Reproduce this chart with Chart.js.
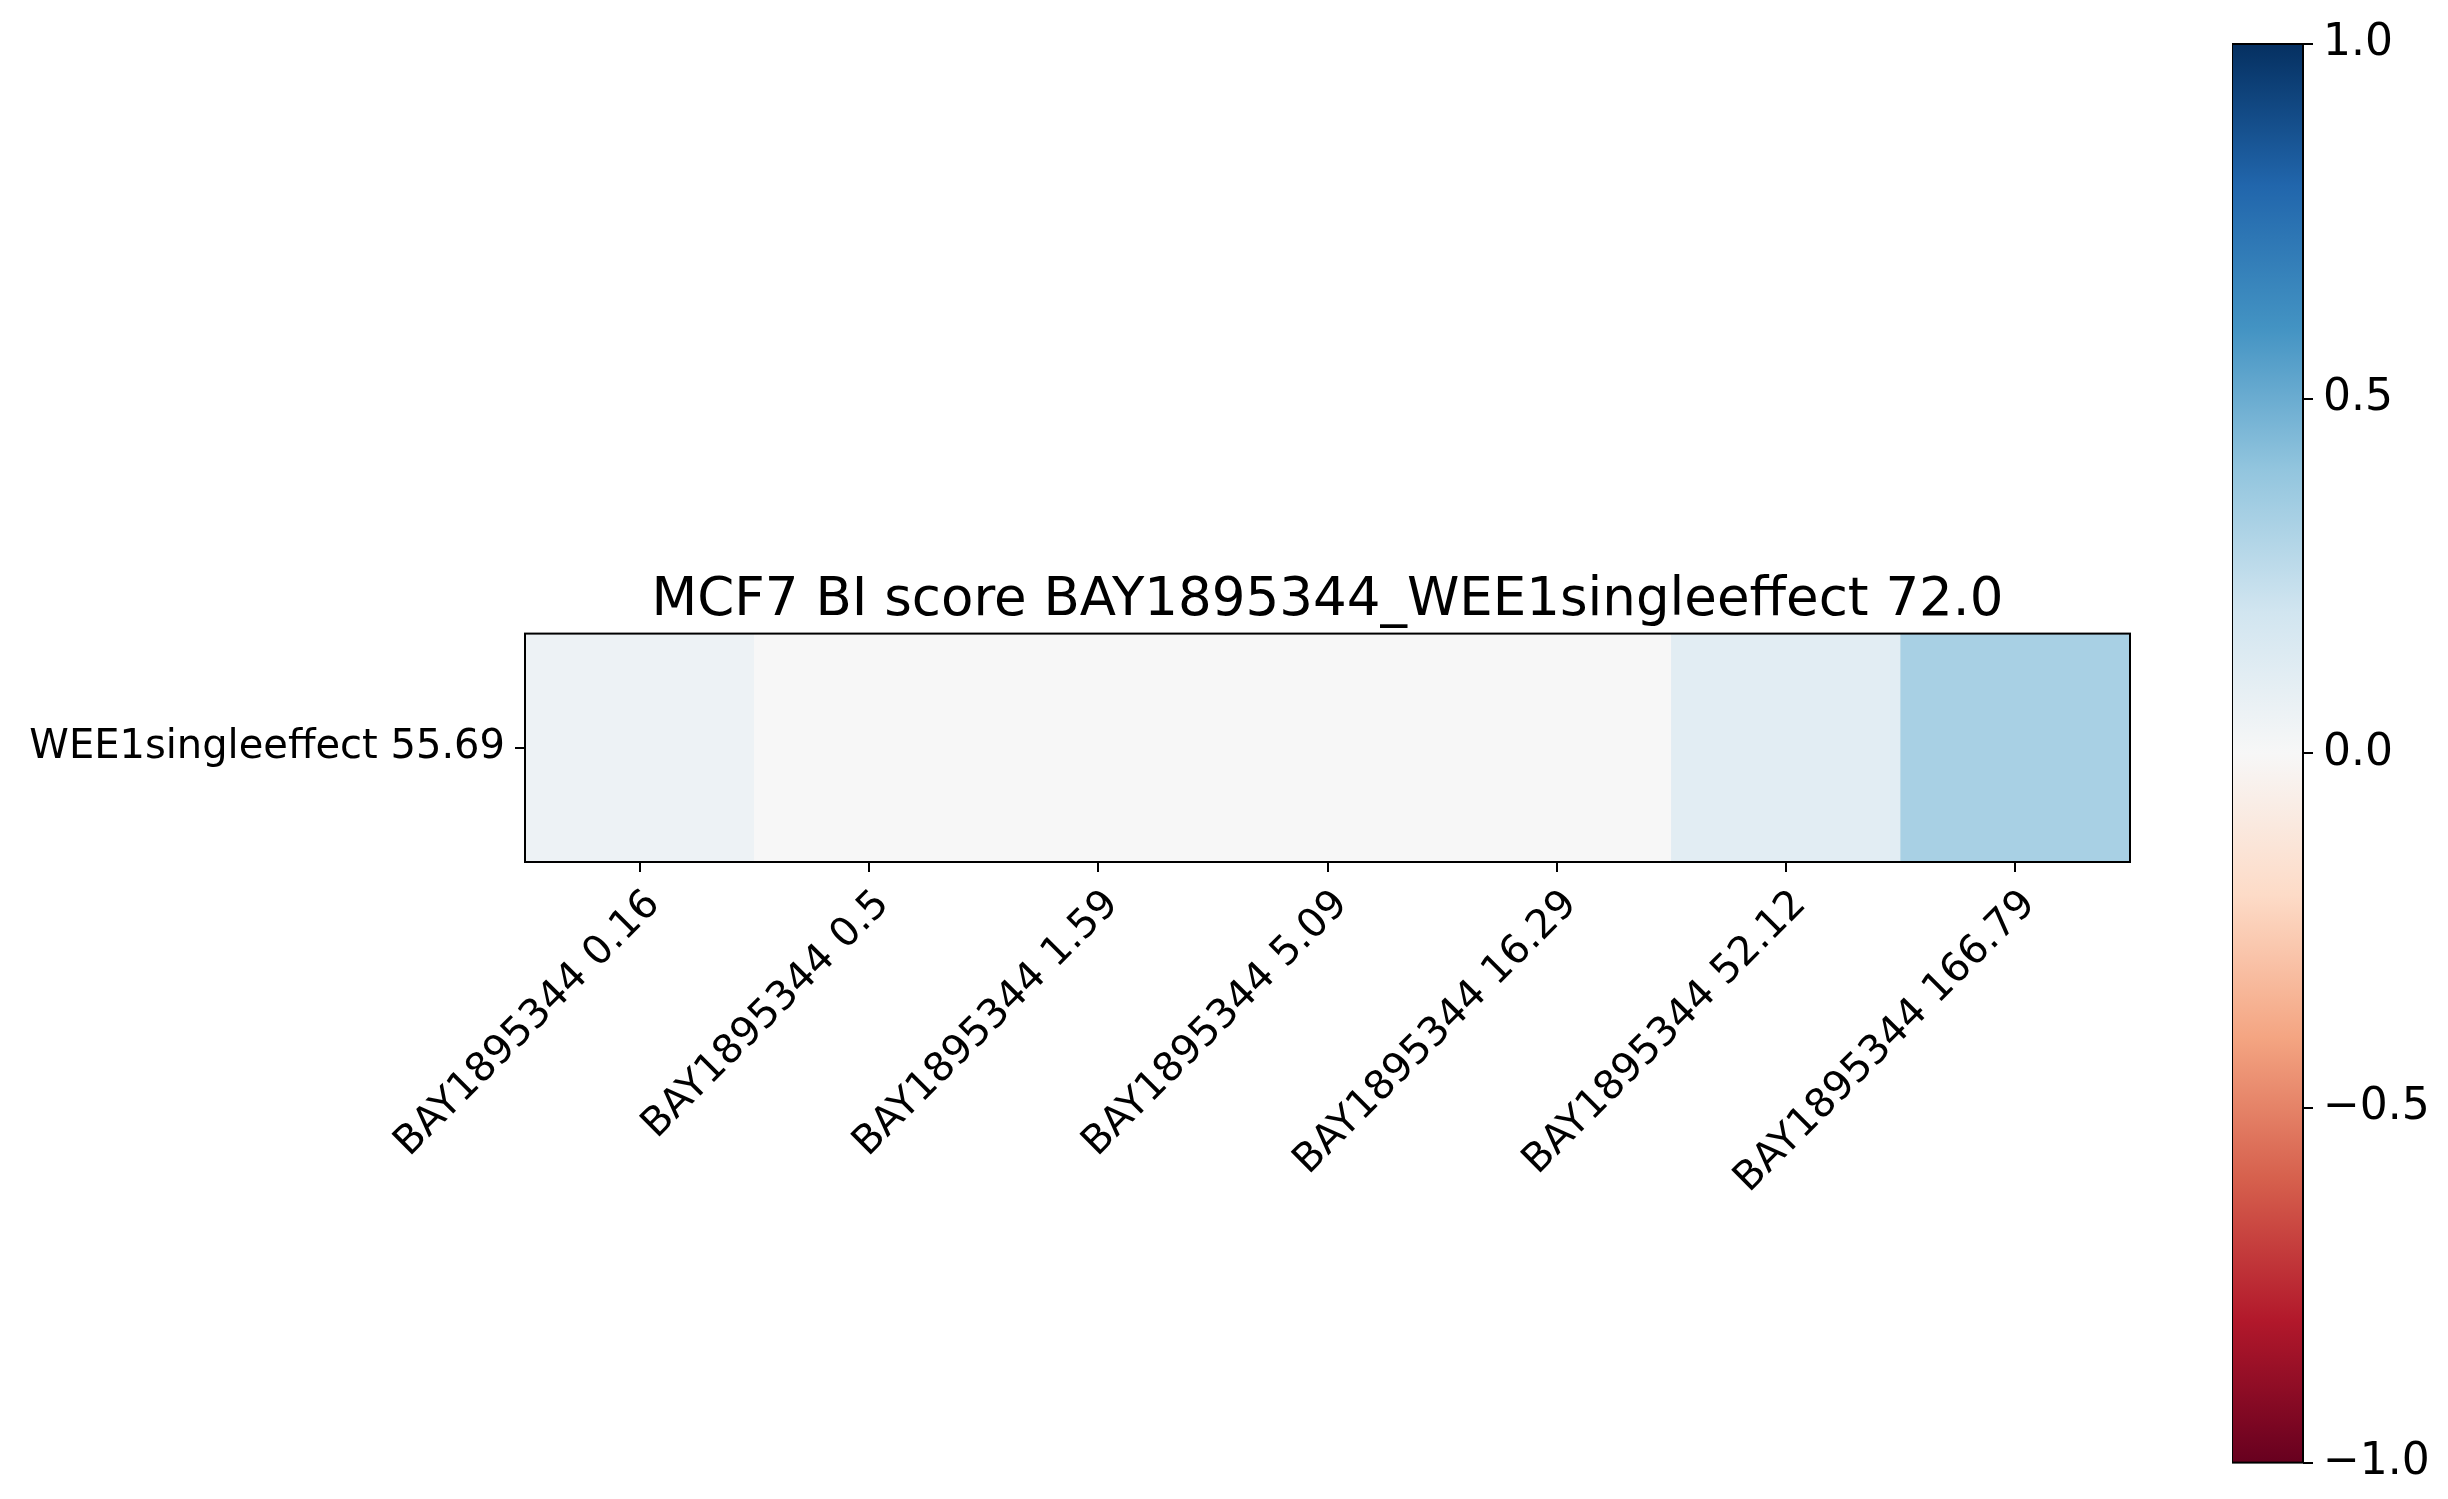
<!DOCTYPE html>
<html>
<head>
<meta charset="utf-8">
<title>MCF7 BI score</title>
<script src="https://cdn.jsdelivr.net/npm/chart.js@4.4.1/dist/chart.umd.min.js"></script>
<style>
  html, body { margin: 0; padding: 0; background: #fff; }
  #wrap { position: relative; width: 2448px; height: 1499px; }
  #heat { position: absolute; left: 0; top: 0; }
  #cbar { position: absolute; left: 2232px; top: 0; }
</style>
</head>
<body>
<div id="wrap">
  <canvas id="heat" width="2448" height="1499"></canvas>
  <canvas id="cbar" width="216" height="1499"></canvas>
</div>
<script>
// values
var titleText = 'MCF7 BI score BAY1895344_WEE1singleeffect 72.0';
var doseLabels = ['BAY1895344 0.16', 'BAY1895344 0.5', 'BAY1895344 1.59', 'BAY1895344 5.09',
                  'BAY1895344 16.29', 'BAY1895344 52.12', 'BAY1895344 166.79'];
var rowLabels = ['WEE1singleeffect 55.69'];
var biScores = [0.055, 0.0, 0.0, 0.0, 0.0, 0.11, 0.33];
var cbarTicks = [-1.0, -0.5, 0.0, 0.5, 1.0];

// RdBu colormap, -1 -> +1
var rdbu = ['#67001f', '#b2182b', '#d6604d', '#f4a582', '#fddbc7', '#f7f7f7',
            '#d1e5f0', '#92c5de', '#4393c3', '#2166ac', '#053061'];

var FONT = 'DejaVu Sans';

function hexToRgb(h) {
    return [parseInt(h.substr(1, 2), 16), parseInt(h.substr(3, 2), 16), parseInt(h.substr(5, 2), 16)];
}

function rdbuColor(v) {
    var t = (Math.max(-1, Math.min(1, v)) + 1) / 2 * (rdbu.length - 1);
    var i = Math.min(Math.floor(t), rdbu.length - 2), f = t - i;
    var a = hexToRgb(rdbu[i]), b = hexToRgb(rdbu[i + 1]);
    var c = [0, 1, 2].map(function(k) { return Math.round(a[k] + (b[k] - a[k]) * f); });
    return 'rgb(' + c.join(',') + ')';
}

function cbarFill(ctx) {
    var area = ctx.chart.chartArea;
    if (!area) return rdbu[5];
    var g = ctx.chart.ctx.createLinearGradient(0, area.bottom, 0, area.top);
    rdbu.forEach(function(c, i) { g.addColorStop(i / (rdbu.length - 1), c); });
    return g;
}

// black box round the plot area, like the axes spines
var framePlugin = {
    id: 'frame',
    afterDatasetsDraw: function(chart) {
        var a = chart.chartArea, c = chart.ctx;
        c.save();
        c.strokeStyle = '#000';
        c.lineWidth = 2;
        c.strokeRect(a.left, a.top, a.right - a.left, a.bottom - a.top);
        c.restore();
    }
};

var tickGrid = { display: true, offset: false, drawOnChartArea: false, drawTicks: true,
                 tickLength: 10, color: '#000', lineWidth: 2 };

// heatmap
new Chart(document.getElementById('heat'), {
    type: 'bar',
    data: {
        labels: doseLabels,
        datasets: [{
            data: biScores.map(function() { return [-0.5, 0.5]; }),
            backgroundColor: biScores.map(rdbuColor),
            borderWidth: 0,
            categoryPercentage: 1.0,
            barPercentage: 1.0
        }]
    },
    options: {
        responsive: false,
        animation: false,
        devicePixelRatio: 1,
        layout: { padding: { left: 0, right: 318, top: 569, bottom: 237 } },
        plugins: {
            legend: { display: false },
            tooltip: { enabled: false },
            title: {
                display: true,
                text: titleText,
                fullSize: false,
                color: '#000',
                font: { family: FONT, size: 53, weight: 'normal', lineHeight: 1.2 },
                padding: { top: 0, bottom: 1 }
            }
        },
        scales: {
            x: {
                offset: true,
                grid: tickGrid,
                border: { display: false },
                ticks: {
                    // a (transparent) backdrop stops Chart.js pulling rotated labels back left,
                    // so the text hangs down-right of the tick like matplotlib's anchor mode
                    autoSkip: false, minRotation: 45, maxRotation: 45, padding: 12,
                    showLabelBackdrop: true, backdropColor: 'rgba(0,0,0,0)',
                    color: '#000', font: { family: FONT, size: 40, lineHeight: 1.0 }
                },
                afterFit: function(s) { s.height = 400; }
            },
            y: {
                min: -0.5,
                max: 0.5,
                afterBuildTicks: function(s) { s.ticks = [{ value: 0 }]; },
                grid: tickGrid,
                border: { display: false },
                ticks: {
                    padding: 10, color: '#000', font: { family: FONT, size: 40 },
                    callback: function() { return rowLabels[0]; }
                },
                afterFit: function(s) { s.width = 525; }
            }
        }
    },
    plugins: [framePlugin]
});

// colorbar
new Chart(document.getElementById('cbar'), {
    type: 'bar',
    data: {
        labels: [''],
        datasets: [{
            data: [[cbarTicks[0], cbarTicks[cbarTicks.length - 1]]],
            backgroundColor: cbarFill,
            borderWidth: 0,
            categoryPercentage: 1.0,
            barPercentage: 1.0
        }]
    },
    options: {
        responsive: false,
        animation: false,
        devicePixelRatio: 1,
        layout: { padding: { left: 0, right: 0, top: 44, bottom: 31 } },
        plugins: { legend: { display: false }, tooltip: { enabled: false } },
        scales: {
            x: { display: false },
            y: {
                position: 'right',
                min: -1,
                max: 1,
                afterBuildTicks: function(s) { s.ticks = cbarTicks.map(function(v) { return { value: v }; }); },
                grid: tickGrid,
                border: { display: false },
                ticks: {
                    padding: 10, color: '#000', font: { family: FONT, size: 44 },
                    callback: function(v) { return (v < 0 ? '\u2212' : '') + Math.abs(v).toFixed(1); }
                },
                afterFit: function(s) { s.width = 145; }
            }
        }
    },
    plugins: [framePlugin]
});
</script>
</body>
</html>
